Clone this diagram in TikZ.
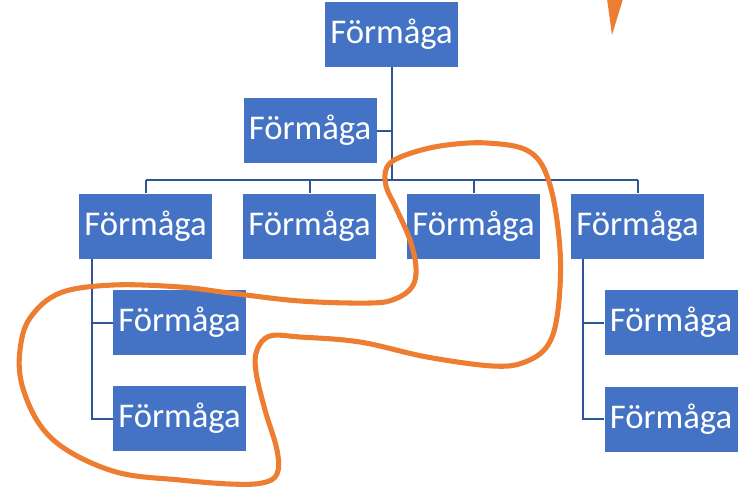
\documentclass[tikz,border=0pt]{standalone}
\usepackage{fontspec}
\setmainfont{Carlito}
\definecolor{boxblue}{HTML}{4472C4}
\definecolor{lineblue}{HTML}{2F5597}
\definecolor{accent}{HTML}{ED7D31}
\tikzset{
  box/.style={fill=boxblue, text=white, minimum width=99.75pt, minimum height=48.75pt, inner sep=0pt, font=\fontsize{26}{30}\selectfont},
  conn/.style={draw=lineblue, line width=1.5pt},
  loop/.style={draw=accent, line width=3.8pt}
}
\begin{document}
\begin{tikzpicture}[x=0.75pt,y=-0.75pt]
\useasboundingbox (0,0) rectangle (738,486);
\node[box] (top) at (391.5,34.5) {Förmåga};
\node[box] (asst) at (310,130.5) {Förmåga};
\node[box] (a) at (145.5,226) {Förmåga};
\node[box] (b) at (309.5,226) {Förmåga};
\node[box] (c) at (473.5,226) {Förmåga};
\node[box] (d) at (637.5,226) {Förmåga};
\node[box] (a1) at (179.5,322.5) {Förmåga};
\node[box] (a2) at (179.5,418.5) {Förmåga};
\node[box] (d1) at (671,322.5) {Förmåga};
\node[box] (d2) at (671,419) {Förmåga};
\coordinate (bar) at (0,180);
\draw[conn] (top.south) -- (top.south |- bar);
\draw[conn] (asst.east) -- (asst.east -| top.south);
\draw[conn] (a.north |- bar) -- (d.north |- bar);
\foreach \n in {a,b,c,d} \draw[conn] (\n.north |- bar) -- (\n.north);
\draw[conn] ([xshift=9.75pt]a.south west) |- (a2.west);
\draw[conn] ([xshift=9.75pt]a.south west |- a1.west) -- (a1.west);
\draw[conn] ([xshift=9pt]d.south west) |- (d2.west);
\draw[conn] ([xshift=9pt]d.south west |- d1.west) -- (d1.west);
\fill[accent] (607,-1) -- (623,-1) -- (612,35) -- cycle;
\draw[loop] plot[smooth cycle, tension=0.6] coordinates {
 (387,167) (403,156) (440,146) (487,143) (530,152) (550,185) (560,250) (558,310)
 (548,345) (525,362) (493,366) (427,357) (360,342) (300,337) (270,336)
 (257,350) (256,372) (265,410) (277,450) (277,474) (262,483) (230,484)
 (180,480) (120,473) (70,452) (40,425) (22,385) (20,350) (30,318)
 (60,293) (113,285) (180,287) (230,293) (300,301) (370,303) (395,299)
 (412,287) (416,268) (410,240) (396,208) (386,186)};
\end{tikzpicture}
\end{document}
